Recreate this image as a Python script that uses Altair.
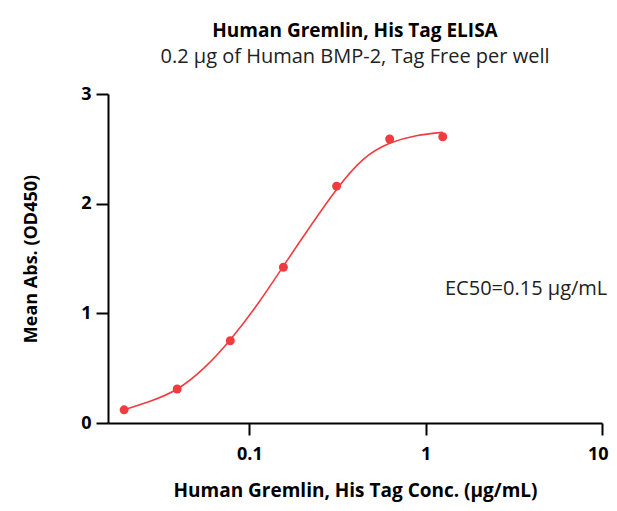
import altair as alt
import pandas as pd

conc = [0.0195, 0.039, 0.078, 0.156, 0.3125, 0.625, 1.25]
absorb = [0.12, 0.31, 0.75, 1.42, 2.16, 2.59, 2.61]

curve_x = [0.0195, 0.0276, 0.039, 0.0552, 0.078, 0.111, 0.156, 0.221, 0.3125, 0.44, 0.625, 0.885, 1.25]
curve_y = [0.12, 0.20, 0.31, 0.50, 0.76, 1.08, 1.43, 1.79, 2.13, 2.40, 2.55, 2.62, 2.65]

x_ticks = [0.1, 1, 10]
y_ticks = [0, 1, 2, 3]

FONT = "Open Sans"
RED = "#F23B3F"

pts = pd.DataFrame({"x": conc, "y": absorb})
crv = pd.DataFrame({"x": curve_x, "y": curve_y})

xscale = alt.Scale(type="log", domain=[0.0158, 10])
yscale = alt.Scale(domain=[0, 3])

xaxis = alt.Axis(values=x_ticks, labelExpr="datum.value >= 1 ? format(datum.value, 'd') : format(datum.value, '.1f')",
                 title="Human Gremlin, His Tag Conc. (μg/mL)", grid=False, domainColor="black", domainWidth=2,
                 tickColor="black", tickWidth=2, tickSize=12, labelFont=FONT, labelFontSize=18, labelFontWeight="bold",
                 labelColor="black", labelPadding=10, titleFont=FONT, titleFontSize=19, titleFontWeight="bold",
                 titleColor="black", titlePadding=18, labelFlush=True, labelFlushOffset=6)
yaxis = alt.Axis(values=y_ticks, format="d", title="Mean Abs. (OD450)", grid=False, domainColor="black", domainWidth=2,
                 tickColor="black", tickWidth=2, tickSize=12, labelFont=FONT, labelFontSize=18, labelFontWeight="bold",
                 labelColor="black", labelPadding=5, titleFont=FONT, titleFontSize=18, titleFontWeight="bold",
                 titleColor="black", titlePadding=40, labelFlush=False)

line = alt.Chart(crv).mark_line(color=RED, strokeWidth=1.6, interpolate="natural").encode(
    x=alt.X("x:Q", scale=xscale, axis=xaxis),
    y=alt.Y("y:Q", scale=yscale, axis=yaxis),
)
points = alt.Chart(pts).mark_circle(color=RED, size=80, opacity=1).encode(
    x=alt.X("x:Q", scale=xscale),
    y=alt.Y("y:Q", scale=yscale),
)
ec50 = alt.Chart(pd.DataFrame({"t": ["EC50=0.15 μg/mL"]})).mark_text(
    font=FONT, fontSize=20, align="left", baseline="middle", color="#222222"
).encode(text="t:N", x=alt.value(337), y=alt.value(195))

chart = alt.layer(line, points, ec50).properties(
    width=494, height=329,
    title=alt.TitleParams(
        text="Human Gremlin, His Tag ELISA",
        subtitle="0.2 μg of Human BMP-2, Tag Free per well",
        font=FONT, fontSize=19, fontWeight="bold", color="black",
        subtitleFont=FONT, subtitleFontSize=20, subtitleColor="#222222",
        anchor="middle", offset=18, subtitlePadding=6,
    ),
    padding={"left": 100, "top": 86, "right": 7, "bottom": 80},
    autosize=alt.AutoSizeParams(type="none"),
).configure(background="white").configure_view(stroke=None, strokeWidth=0)

chart.save("out.html", embed_options={"renderer": "svg", "actions": False})
